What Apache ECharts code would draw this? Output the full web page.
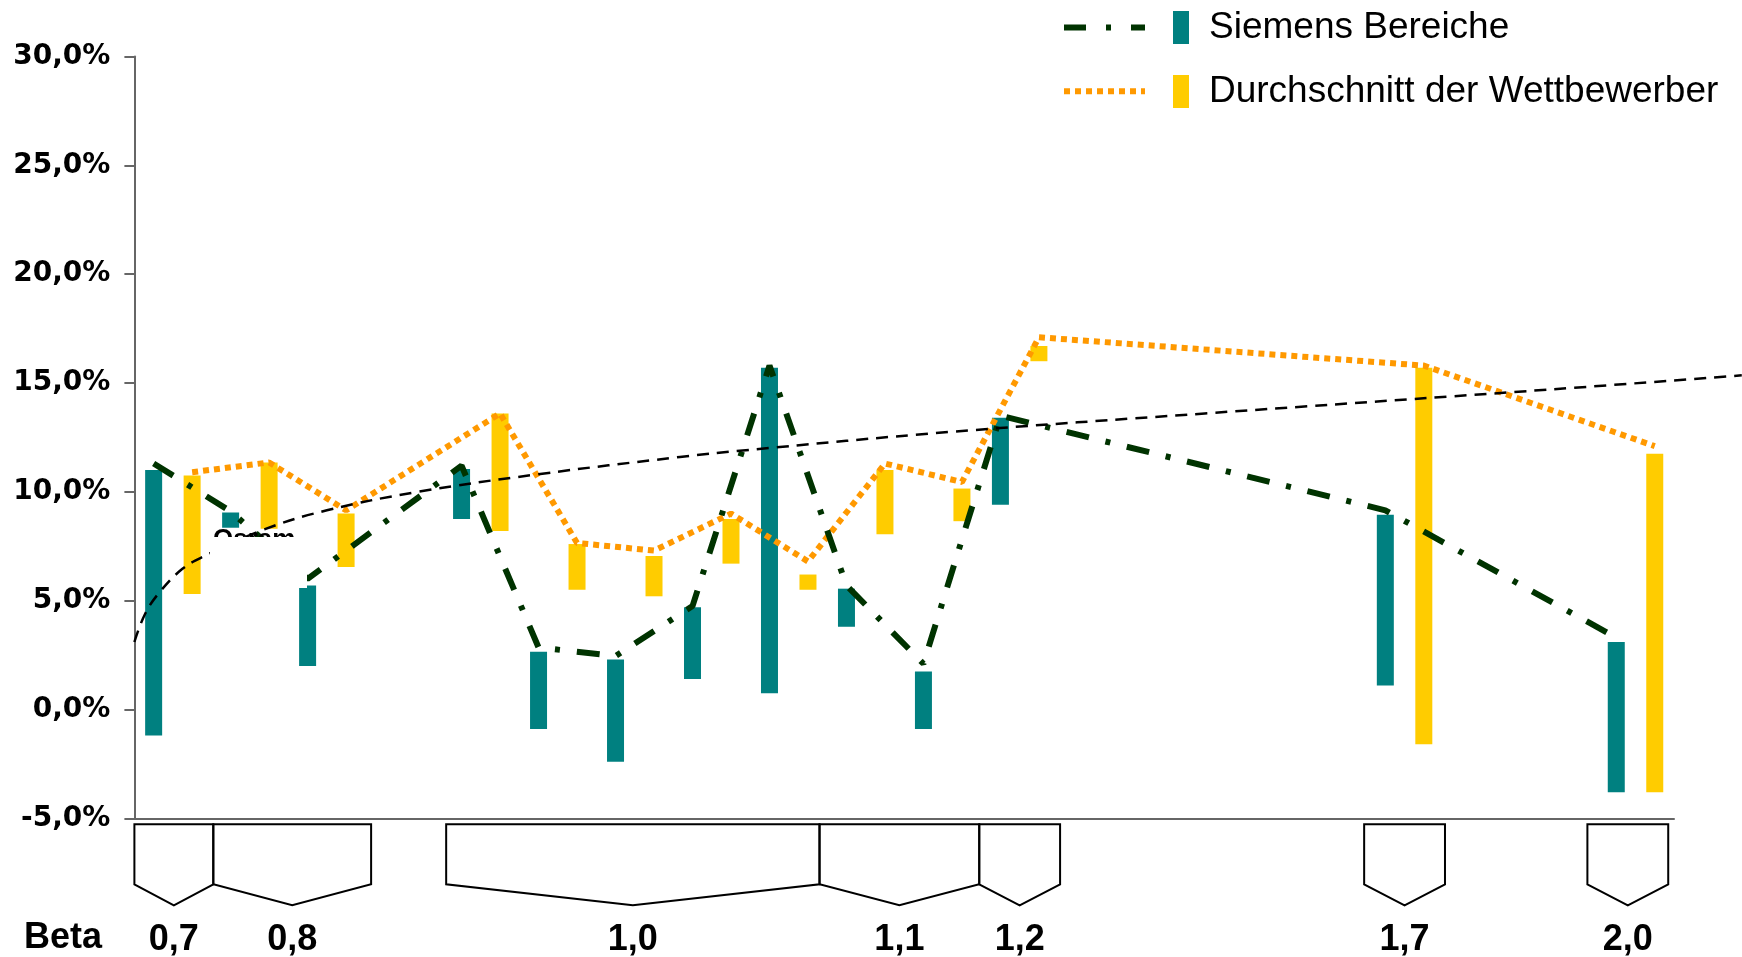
<!DOCTYPE html>
<html>
<head>
<meta charset="utf-8">
<script src="https://cdn.jsdelivr.net/npm/echarts@6/dist/echarts.min.js"></script>
<style>
html,body{margin:0;padding:0;background:#fff;}
#chart{width:1742px;height:957px;}
</style>
</head>
<body>
<div id="chart"></div>
<script>
// ---- data ----
const siemensName = 'Siemens Bereiche';
const rivalName = 'Durchschnitt der Wettbewerber';
const siemensSlot = [0, 2, 4, 8, 10, 12, 14, 16, 18, 20, 22, 32, 38];
const rivalSlot   = [1, 3, 5, 9, 11, 13, 15, 17, 19, 21, 23, 33, 39];
const siemensLow  = [-1.2, 8.35, 2.0, 8.75, -0.9, -2.4, 1.4, 0.75, 3.8, -0.9, 9.4, 1.1, -3.8];
const siemensHigh = [11.0, 9.05, 5.7, 11.05, 2.65, 2.3, 4.7, 15.7, 5.55, 1.75, 13.4, 8.95, 3.1];
const siemensLine = [11.3, 9.1, 6.0, 11.2, 2.85, 2.45, 4.75, 15.8, 5.7, 2.1, 13.5, 9.15, 3.3];
const rivalLow    = [5.3, 8.3, 6.55, 8.2, 5.5, 5.2, 6.7, 5.5, 8.05, 8.65, 16.0, -1.6, -3.8];
const rivalHigh   = [10.75, 11.35, 9.0, 13.6, 7.6, 7.05, 8.75, 6.2, 11.0, 10.15, 16.7, 15.7, 11.75];
const rivalLine   = [10.9, 11.35, 9.15, 13.6, 7.65, 7.3, 9.0, 6.8, 11.3, 10.45, 17.1, 15.8, 12.1];
const trendX = [0, 0.28, 0.66, 1.24, 1.76, 3.34, 5.0, 7.37, 10.46, 14.17, 15.8, 21.18, 27.8, 36.76, 41.75];
const trendY = [3.1, 4.4, 5.4, 6.45, 7.0, 8.25, 9.15, 10.0, 10.8, 11.6, 11.9, 12.75, 13.6, 14.7, 15.35];
const betaLabels = ['0,7', '0,8', '1,0', '1,1', '1,2', '1,7', '2,0'];
const betaStart  = [0, 2.05, 8.1, 17.8, 21.95, 31.95, 37.75];
const betaEnd    = [2.05, 6.15, 17.8, 21.95, 24.05, 34.05, 39.85];
const yMin = -5, yMax = 30, yStep = 5;

// ---- styles ----
const TEAL = '#008080', YELLOW = '#FFCC00', GREEN = '#003300', ORANGE = '#FF9900';
const BAR_W = 17;
const HIDDEN = { color: 'rgba(0,0,0,0)', opacity: 0, borderWidth: 0 };

function rangeBar(params, api) {
  const x = api.value(0), lo = api.value(1), hi = api.value(2);
  const pTop = api.coord([x, hi]);
  const pBot = api.coord([x, lo]);
  return {
    type: 'rect',
    shape: { x: pTop[0] - BAR_W / 2, y: pTop[1], width: BAR_W, height: pBot[1] - pTop[1] },
    style: api.style()
  };
}

function bracket(params, api) {
  const i = params.dataIndex;
  const a = api.coord([api.value(0), yMin]);
  const b = api.coord([api.value(1), yMin]);
  const y = a[1];
  const mid = (a[0] + b[0]) / 2;
  return {
    type: 'group',
    children: [
      {
        type: 'polygon',
        shape: { points: [[a[0], y + 6], [b[0], y + 6], [b[0], y + 66], [mid, y + 87], [a[0], y + 66]] },
        style: { fill: 'none', stroke: '#000', lineWidth: 2 }
      },
      {
        type: 'text',
        x: mid, y: y + 122,
        style: {
          text: betaLabels[i], fill: '#000', align: 'center', verticalAlign: 'middle',
          font: 'bold 36px "Liberation Sans", Arial, sans-serif'
        }
      }
    ]
  };
}

const chart = echarts.init(document.getElementById('chart'), null, { renderer: 'canvas' });
const gridTop = 56.5, gridBottom = 138.7, gridLeft = 134.4;

const option = {
  animation: false,
  backgroundColor: '#ffffff',
  grid: [
    { left: gridLeft, right: 68, top: gridTop, bottom: gridBottom },
    { left: gridLeft, right: 0, top: gridTop, bottom: gridBottom }
  ],
  xAxis: [
    { gridIndex: 0, type: 'value', min: 0, max: 40,
      axisLine: { show: true, onZero: false, lineStyle: { color: '#666', width: 2 } },
      axisTick: { show: false }, axisLabel: { show: false }, splitLine: { show: false } },
    { gridIndex: 1, type: 'value', min: 0, max: 41.756, show: false, splitLine: { show: false } }
  ],
  yAxis: [
    { gridIndex: 0, type: 'value', min: yMin, max: yMax, interval: yStep,
      axisLine: { show: true, lineStyle: { color: '#666', width: 2 } },
      axisTick: { show: true, length: 10, lineStyle: { color: '#666', width: 2 } },
      splitLine: { show: false },
      axisLabel: {
        margin: 24, color: '#000', fontSize: 28, fontWeight: 'bold', fontFamily: 'DejaVu Sans',
        formatter: v => v.toFixed(1).replace('.', ',') + '%'
      } },
    { gridIndex: 1, type: 'value', min: yMin, max: yMax, show: false, splitLine: { show: false } }
  ],
  legend: [
    {
      data: [
        { name: siemensName + ' ', itemStyle: HIDDEN, lineStyle: { width: 6, type: [22, 20, 5, 20], color: GREEN } },
        { name: rivalName + ' ', itemStyle: HIDDEN, lineStyle: { width: 6, type: [6, 5], color: ORANGE } }
      ],
      orient: 'vertical', left: 1061, top: 22, itemWidth: 81, itemHeight: 14, itemGap: 52.5,
      padding: 0, formatter: () => '', selectedMode: false,
      textStyle: { fontSize: 10, lineHeight: 14 }
    },
    {
      data: [siemensName, rivalName],
      orient: 'vertical', left: 1173, top: 9, itemWidth: 16, itemHeight: 33, itemGap: 27,
      icon: 'rect', padding: 0, selectedMode: false,
      textStyle: { fontSize: 37, lineHeight: 33, color: '#000', fontFamily: 'Liberation Sans', padding: [0, 0, 0, 15] }
    }
  ],
  graphic: [
    { type: 'text', left: 24, top: 920,
      style: { text: 'Beta', fill: '#000', font: 'bold 36px "Liberation Sans", Arial, sans-serif' } },
    { type: 'text', left: 213, top: 527, z: 100,
      style: { text: 'Osram', fill: '#000', font: 'bold 26px "Liberation Sans", Arial, sans-serif' } },
    { type: 'rect', left: 210, top: 537, z: 101,
      shape: { width: 97, height: 51 }, style: { fill: '#ffffff' } }
  ],
  series: [
    {
      name: siemensName, type: 'custom', xAxisIndex: 0, yAxisIndex: 0, z: 2,
      itemStyle: { color: TEAL }, renderItem: rangeBar, encode: { x: 0, y: [1, 2] },
      data: siemensSlot.map((s, i) => [s + 0.5, siemensLow[i], siemensHigh[i]])
    },
    {
      name: rivalName, type: 'custom', xAxisIndex: 0, yAxisIndex: 0, z: 2,
      itemStyle: { color: YELLOW }, renderItem: rangeBar, encode: { x: 0, y: [1, 2] },
      data: rivalSlot.map((s, i) => [s + 0.5, rivalLow[i], rivalHigh[i]])
    },
    {
      name: rivalName + ' ', type: 'line', xAxisIndex: 0, yAxisIndex: 0, z: 3,
      symbol: 'none', color: ORANGE,
      lineStyle: { color: ORANGE, width: 6, type: [6, 5], cap: 'butt' },
      data: rivalSlot.map((s, i) => [s + 0.5, rivalLine[i]])
    },
    {
      name: siemensName + ' ', type: 'line', xAxisIndex: 0, yAxisIndex: 0, z: 4,
      symbol: 'none', color: GREEN,
      lineStyle: { color: GREEN, width: 6, type: [23, 17, 5, 17], cap: 'butt' },
      data: siemensSlot.map((s, i) => [s + 0.5, siemensLine[i]])
    },
    {
      name: 'Trend', type: 'line', xAxisIndex: 1, yAxisIndex: 1, z: 5,
      symbol: 'none', smooth: 0.4, color: '#000',
      lineStyle: { color: '#000', width: 2.5, type: [12, 8] },
      data: trendX.map((x, i) => [x, trendY[i]])
    },
    {
      name: 'Beta', type: 'custom', xAxisIndex: 0, yAxisIndex: 0, clip: false, silent: true,
      renderItem: bracket, encode: { x: [0, 1] },
      data: betaStart.map((s, i) => [s, betaEnd[i]])
    }
  ]
};
chart.setOption(option);
</script>
</body>
</html>
